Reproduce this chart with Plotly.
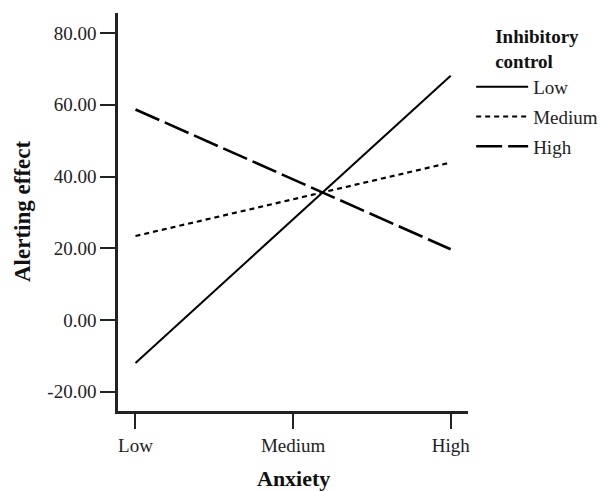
import plotly.graph_objects as go

anxiety_levels = ["Low", "Medium", "High"]
anxiety_pos = [0, 1, 2]
series_names = ["Low", "Medium", "High"]
low_ic = [-12.0, 28.0, 68.1]
medium_ic = [23.4, 33.6, 43.9]
high_ic = [58.7, 39.2, 19.7]
y_ticks = [-20, 0, 20, 40, 60, 80]
y_tick_labels = ["-20.00", "0.00", "20.00", "40.00", "60.00", "80.00"]

FONT = "Liberation Serif"
styles = [dict(dash="solid", width=2), dict(dash="5px,4px", width=2.2), dict(dash="26px,6px", width=2.6)]

fig = go.Figure()
for name, vals, st in zip(series_names, [low_ic, medium_ic, high_ic], styles):
    fig.add_trace(go.Scatter(x=anxiety_pos, y=vals, mode="lines", name=name, legendgroup=name,
                             line=dict(color="black", **st)))

fig.update_layout(
    width=601, height=491,
    paper_bgcolor="white", plot_bgcolor="white",
    margin=dict(l=118, r=133, t=13, b=80, autoexpand=False),
    font=dict(family=FONT, size=19, color="#222"),
    xaxis=dict(range=[-0.111, 2.11], tickvals=anxiety_pos, ticktext=anxiety_levels,
               showline=True, linecolor="#222", linewidth=2.5, ticks="outside",
               ticklen=15, tickwidth=2, tickcolor="#222", showgrid=False, zeroline=False,
               automargin=False),
    yaxis=dict(range=[-25.4, 85.6], tickvals=y_ticks, ticktext=y_tick_labels,
               showline=True, linecolor="#222", linewidth=2.5, ticks="outside",
               ticklen=15, tickwidth=2, tickcolor="#222", showgrid=False, zeroline=False,
               automargin=False),
    legend=dict(x=1.009, xanchor="left", y=0.986, yanchor="top", itemwidth=52,
                bgcolor="rgba(0,0,0,0)", tracegroupgap=2,
                font=dict(size=19, family=FONT, color="#222"),
                title=dict(text="<b>Inhibitory<br>control</b>", side="top center",
                           font=dict(size=19, family=FONT, color="#111"))),
    showlegend=True,
    annotations=[
        dict(text="<b>Alerting effect</b>", xref="paper", yref="paper", x=0, y=0.5,
             xanchor="center", yanchor="middle", xshift=-96, textangle=-90, showarrow=False,
             font=dict(size=23, family=FONT, color="#111")),
        dict(text="<b>Anxiety</b>", xref="paper", yref="paper", x=0.5, y=0,
             xanchor="center", yanchor="middle", yshift=-67, showarrow=False,
             font=dict(size=22, family=FONT, color="#111")),
    ],
)

fig.write_html("out.html", config={"displayModeBar": False},
               post_script="document.body.style.margin='0';")
